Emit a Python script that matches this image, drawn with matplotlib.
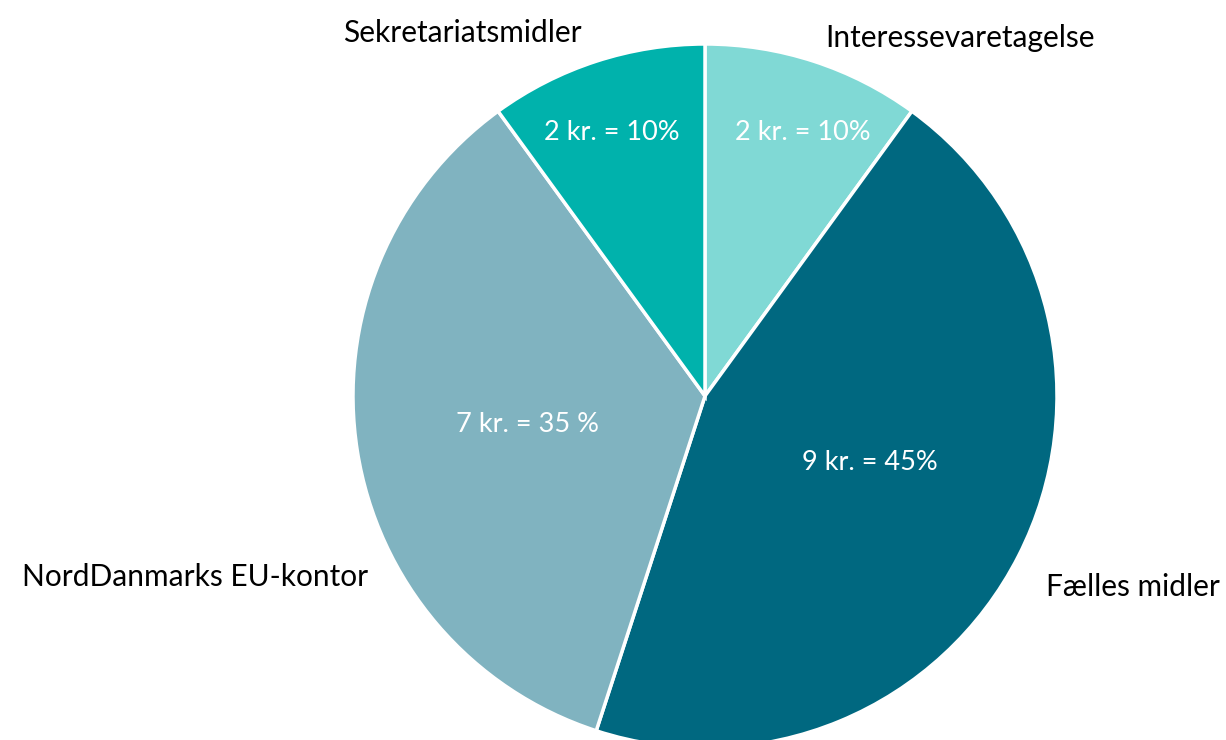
import matplotlib
matplotlib.use("Agg")
import matplotlib.pyplot as plt

# data
categories = ['Interessevaretagelse', 'Fælles midler', 'NordDanmarks EU-kontor', 'Sekretariatsmidler']
amounts = [2, 9, 7, 2]
inner_labels = ['2 kr. = 10%', '9 kr. = 45%', '7 kr. = 35 %', '2 kr. = 10%']

colors = ['#80d9d5', '#006880', '#80b3c0', '#00b2ac']
# outer label positions (pixels, y from the top) and inner label positions
outer_pos = [(960, 38), (1133, 587), (195, 577), (462, 33)]
inner_pos = [(803, 132), (870, 462), (527, 424), (612, 133)]

W, H = 1226, 740
fig = plt.figure(figsize=(W / 100, H / 100), dpi=100)
ax = fig.add_axes([0, 0, 1, 1])

wedges, _ = ax.pie(amounts, colors=colors, startangle=90, counterclock=False,
                   center=(705, H - 396), radius=352, frame=True,
                   wedgeprops=dict(edgecolor='white', linewidth=2.5))
ax.set_xlim(0, W)
ax.set_ylim(0, H)
ax.set_aspect('equal')
ax.axis('off')

for name, (x, y) in zip(categories, outer_pos):
    ax.text(x, H - y, name, ha='center', va='center', fontsize=21.5,
            family='Lato', color='black')

for lab, (x, y) in zip(inner_labels, inner_pos):
    ax.text(x, H - y, lab, ha='center', va='center', fontsize=19.5,
            family='Lato', color='white')

fig.savefig('out.png', dpi=100)
